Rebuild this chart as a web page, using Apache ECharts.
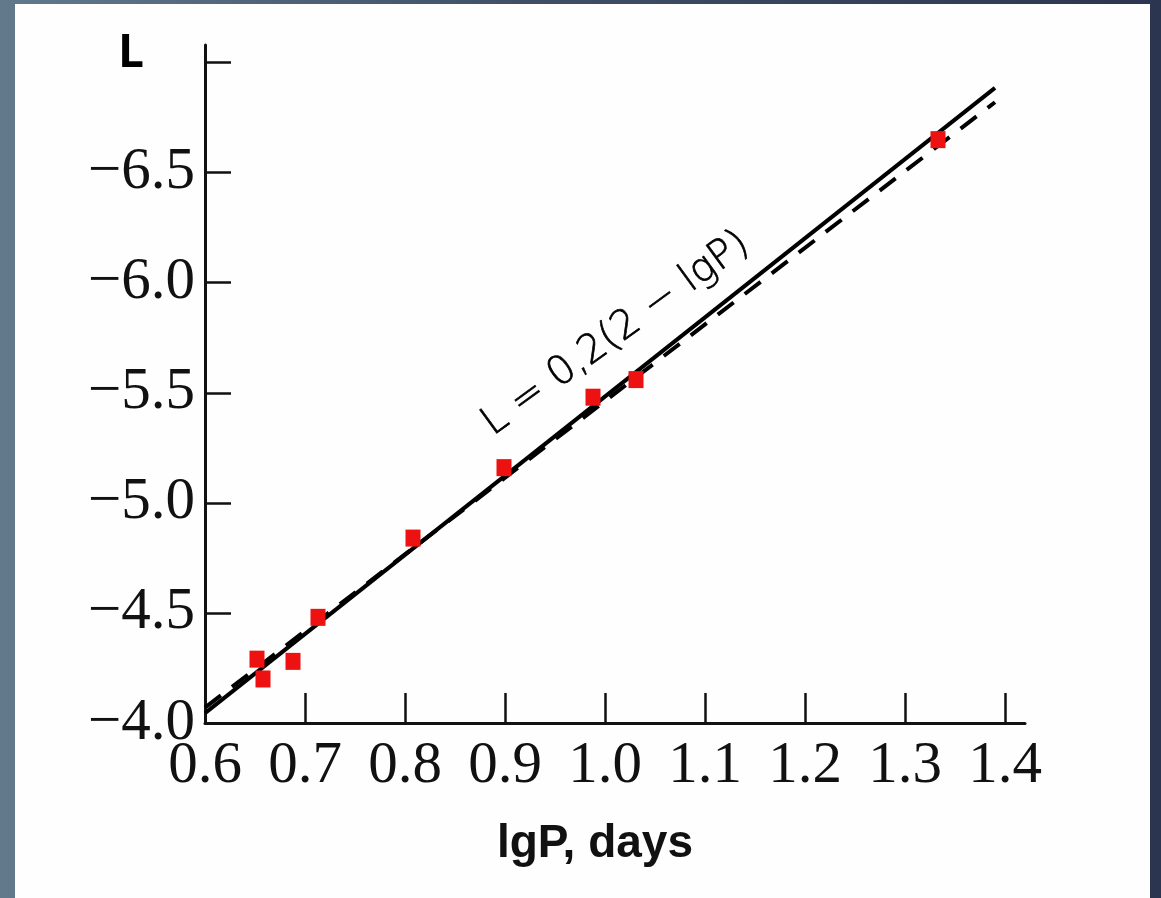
<!DOCTYPE html>
<html>
<head>
<meta charset="utf-8">
<title>L vs lgP</title>
<script src="https://cdn.jsdelivr.net/npm/echarts@6/dist/echarts.min.js"></script>
<style>
  html, body { margin: 0; padding: 0; }
  body {
    width: 1161px; height: 898px; overflow: hidden; position: relative;
    background: linear-gradient(to right, #62798c 0%, #3f5064 45%, #2c3550 100%);
  }
  #panel { position: absolute; left: 15px; top: 4px; width: 1135px; height: 894px; background: #fefefe; }
  #main { position: absolute; left: 0; top: 0; width: 1161px; height: 898px; }
</style>
</head>
<body>
<div id="panel"></div>
<div id="main"></div>
<script>
// measured stars: lgP (days) and L
const lgP = [0.652, 0.658, 0.688, 0.713, 0.808, 0.899, 0.988, 1.031, 1.333];
const lum = [-4.29, -4.20, -4.28, -4.48, -4.84, -5.16, -5.48, -5.56, -6.65];

// fitted lines, end points
const solidX = [0.6, 1.39];
const solidY = [-4.045, -6.885];
const dashX = [0.6, 1.39];
const dashY = [-4.07, -6.82];

// axis ticks and labels
const xTicks = [0.7, 0.8, 0.9, 1.0, 1.1, 1.2, 1.3, 1.4];
const xLabels = [0.6, 0.7, 0.8, 0.9, 1.0, 1.1, 1.2, 1.3, 1.4];
const yTicks = [-7.0, -6.5, -6.0, -5.5, -5.0, -4.5];
const yLabels = [-6.5, -6.0, -5.5, -5.0, -4.5, -4.0];

const pairs = (xs, ys) => xs.map((x, i) => [x, ys[i]]);

const chart = echarts.init(document.getElementById('main'));

chart.setOption({
  backgroundColor: 'transparent',
  animation: false,
  grid: { left: 205, right: 136, top: 45, bottom: 175 },
  xAxis: {
    type: 'value',
    min: 0.6,
    max: 1.42,
    name: 'lgP, days',
    nameLocation: 'middle',
    nameGap: 98,
    nameTextStyle: {
      fontFamily: 'Liberation Sans', fontWeight: 'bold', fontSize: 46, color: '#111',
      padding: [0, 40, 0, 0]
    },
    splitLine: { show: false },
    axisLine: { lineStyle: { color: '#111', width: 3 } },
    axisTick: { inside: true, length: 30, customValues: xTicks, lineStyle: { color: '#111', width: 2.5 } },
    axisLabel: {
      customValues: xLabels,
      margin: 14,
      fontFamily: 'Liberation Serif', fontSize: 59, color: '#111',
      formatter: v => v.toFixed(1)
    }
  },
  yAxis: {
    type: 'value',
    inverse: true,
    min: -7.08,
    max: -4,
    splitLine: { show: false },
    axisLine: { show: true, lineStyle: { color: '#111', width: 3 } },
    axisTick: { show: true, inside: true, length: 26, customValues: yTicks, lineStyle: { color: '#111', width: 2.5 } },
    axisLabel: {
      customValues: yLabels,
      margin: 10,
      fontFamily: 'Liberation Serif', fontSize: 59, color: '#111',
      formatter: v => v.toFixed(1).replace('-', '\u2212')
    }
  },
  graphic: [
    {
      type: 'text', left: 118, top: 31,
      style: { text: 'L', font: 'bold 46px "Open Sans", sans-serif', fill: '#000' }
    },
    {
      type: 'text', x: 616, y: 334, rotation: 36 * Math.PI / 180,
      style: {
        text: 'L = 0,2(2 \u2212 lgP)', font: '200 40px "DejaVu Sans", sans-serif',
        fill: '#000', stroke: '#000', lineWidth: 0.7,
        align: 'center', verticalAlign: 'middle'
      }
    }
  ],
  series: [
    {
      name: 'fit',
      type: 'line',
      data: pairs(solidX, solidY),
      symbol: 'none',
      lineStyle: { color: '#000', width: 4 },
      z: 2
    },
    {
      name: 'fit dashed',
      type: 'line',
      data: pairs(dashX, dashY),
      symbol: 'none',
      lineStyle: { color: '#000', width: 4, type: [20, 14] },
      z: 2
    },
    {
      name: 'stars',
      type: 'scatter',
      data: pairs(lgP, lum),
      symbol: 'rect',
      symbolSize: [15, 17],
      itemStyle: { color: '#ee1111', opacity: 1 },
      z: 3
    }
  ]
});
</script>
</body>
</html>
